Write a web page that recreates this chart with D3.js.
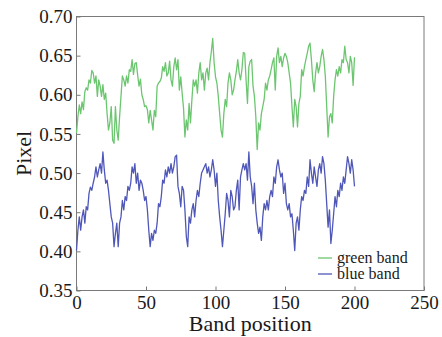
<!DOCTYPE html>
<html>
<head>
<meta charset="utf-8">
<script src="https://cdn.jsdelivr.net/npm/d3@7"></script>
<style>
  body { margin: 0; background: #fff; }
  svg { display: block; }
</style>
</head>
<body>
<svg id="chart" width="442" height="337"></svg>
<script>
const GREEN = '#6cc670';
const BLUE = '#4f57b8';
const AXIS = '#7a7a7a';
const FONT = '"Liberation Serif", "DejaVu Serif", serif';

// band positions 0..200
const positions = d3.range(0, 201);

const greenBand = [
  0.551, 0.572, 0.587, 0.576, 0.591, 0.581, 0.604, 0.609, 0.606, 0.619,
  0.615, 0.631, 0.628, 0.615, 0.624, 0.598, 0.619, 0.611, 0.598, 0.613,
  0.594, 0.602, 0.576, 0.555, 0.564, 0.585, 0.542, 0.538, 0.585, 0.555,
  0.542, 0.572, 0.598, 0.624, 0.619, 0.611, 0.624, 0.615, 0.632, 0.630,
  0.645, 0.626, 0.640, 0.641, 0.625, 0.611, 0.620, 0.600, 0.594, 0.585,
  0.586, 0.581, 0.564, 0.580, 0.568, 0.555, 0.580, 0.572, 0.611, 0.615,
  0.617, 0.621, 0.636, 0.630, 0.641, 0.624, 0.628, 0.643, 0.619, 0.611,
  0.636, 0.647, 0.632, 0.645, 0.606, 0.623, 0.602, 0.583, 0.546, 0.568,
  0.555, 0.589, 0.564, 0.593, 0.619, 0.611, 0.619, 0.602, 0.628, 0.641,
  0.619, 0.628, 0.606, 0.628, 0.634, 0.619, 0.641, 0.655, 0.672, 0.641,
  0.623, 0.615, 0.598, 0.576, 0.555, 0.546, 0.576, 0.594, 0.585, 0.615,
  0.628, 0.619, 0.600, 0.606, 0.619, 0.630, 0.645, 0.628, 0.619, 0.632,
  0.654, 0.653, 0.619, 0.589, 0.636, 0.643, 0.645, 0.611, 0.598, 0.572,
  0.530, 0.564, 0.555, 0.576, 0.585, 0.594, 0.615, 0.606, 0.619, 0.624,
  0.632, 0.641, 0.647, 0.606, 0.649, 0.660, 0.641, 0.649, 0.636, 0.647,
  0.653, 0.649, 0.641, 0.628, 0.615, 0.585, 0.559, 0.594, 0.585, 0.559,
  0.589, 0.598, 0.632, 0.624, 0.636, 0.645, 0.653, 0.662, 0.666, 0.645,
  0.619, 0.604, 0.628, 0.641, 0.628, 0.636, 0.649, 0.658, 0.645, 0.624,
  0.585, 0.546, 0.572, 0.576, 0.564, 0.598, 0.619, 0.632, 0.624, 0.636,
  0.628, 0.645, 0.641, 0.662, 0.645, 0.641, 0.628, 0.649, 0.641, 0.612,
  0.648,
];

const blueBand = [
  0.401, 0.427, 0.444, 0.427, 0.444, 0.453, 0.436, 0.457, 0.453, 0.474,
  0.482, 0.478, 0.487, 0.495, 0.508, 0.495, 0.504, 0.512, 0.500, 0.527,
  0.504, 0.487, 0.491, 0.478, 0.461, 0.444, 0.436, 0.406, 0.423, 0.436,
  0.406, 0.436, 0.444, 0.465, 0.453, 0.470, 0.465, 0.483, 0.478, 0.487,
  0.508, 0.500, 0.512, 0.487, 0.500, 0.478, 0.491, 0.487, 0.478, 0.465,
  0.470, 0.453, 0.427, 0.406, 0.423, 0.414, 0.427, 0.423, 0.436, 0.461,
  0.457, 0.470, 0.491, 0.487, 0.504, 0.495, 0.508, 0.500, 0.512, 0.500,
  0.508, 0.521, 0.523, 0.483, 0.474, 0.457, 0.483, 0.478, 0.453, 0.419,
  0.406, 0.444, 0.436, 0.453, 0.461, 0.444, 0.465, 0.478, 0.470, 0.487,
  0.500, 0.504, 0.508, 0.512, 0.500, 0.508, 0.495, 0.504, 0.517, 0.504,
  0.483, 0.500, 0.465, 0.444, 0.427, 0.406, 0.427, 0.448, 0.474, 0.465,
  0.444, 0.478, 0.470, 0.453, 0.457, 0.478, 0.491, 0.453, 0.495, 0.504,
  0.512, 0.504, 0.512, 0.491, 0.527, 0.495, 0.483, 0.461, 0.487, 0.453,
  0.436, 0.423, 0.431, 0.414, 0.444, 0.461, 0.453, 0.465, 0.453, 0.470,
  0.478, 0.470, 0.495, 0.487, 0.508, 0.517, 0.504, 0.495, 0.500, 0.474,
  0.487, 0.461, 0.453, 0.461, 0.444, 0.448, 0.427, 0.401, 0.436, 0.444,
  0.427, 0.453, 0.470, 0.465, 0.478, 0.474, 0.495, 0.483, 0.517, 0.500,
  0.487, 0.508, 0.495, 0.483, 0.504, 0.512, 0.500, 0.521, 0.512, 0.491,
  0.461, 0.431, 0.453, 0.410, 0.427, 0.448, 0.470, 0.457, 0.478, 0.470,
  0.487, 0.478, 0.495, 0.487, 0.504, 0.521, 0.512, 0.500, 0.517, 0.504,
  0.483,
];

const xTicks = [0, 50, 100, 150, 200, 250];
const yTicks = [0.35, 0.40, 0.45, 0.50, 0.55, 0.60, 0.65, 0.70];
const seriesNames = ['green band', 'blue band'];

const margin = { top: 16.5, right: 18, bottom: 46.5, left: 76.5 };
const width = 442 - margin.left - margin.right;
const height = 337 - margin.top - margin.bottom;

const svg = d3.select('#chart');
const g = svg.append('g')
  .attr('transform', `translate(${margin.left},${margin.top})`);

const x = d3.scaleLinear().domain([0, 250]).range([0, width]);
const y = d3.scaleLinear().domain([0.35, 0.70]).range([height, 0]);

// box
g.append('rect')
  .attr('width', width)
  .attr('height', height)
  .attr('fill', 'none')
  .attr('stroke', AXIS)
  .attr('stroke-width', 1);

// axes, ticks pointing inward
const xAxis = g.append('g')
  .attr('transform', `translate(0,${height})`)
  .call(d3.axisBottom(x).tickValues(xTicks).tickSize(-4).tickPadding(5)
    .tickFormat(d3.format('d')));
const yAxis = g.append('g')
  .call(d3.axisLeft(y).tickValues(yTicks).tickSize(-4).tickPadding(4)
    .tickFormat(d3.format('.2f')));

for (const ax of [xAxis, yAxis]) {
  ax.attr('font-family', null).attr('font-size', null);
  ax.select('.domain').remove();
  ax.selectAll('line').attr('stroke', AXIS);
  ax.selectAll('text')
    .attr('fill', '#1a1a1a')
    .style('font-family', FONT)
    .style('font-size', '19px');
}

// lines
const line = d3.line()
  .x((d, i) => x(positions[i]))
  .y(d => y(d));

const series = [
  { name: seriesNames[0], values: greenBand, color: GREEN },
  { name: seriesNames[1], values: blueBand, color: BLUE },
];

g.selectAll('.series')
  .data(series)
  .enter()
  .append('path')
  .attr('class', 'series')
  .attr('d', d => line(d.values))
  .attr('fill', 'none')
  .attr('stroke', d => d.color)
  .attr('stroke-width', 1.3)
  .attr('stroke-linejoin', 'round');

// axis titles
svg.append('text')
  .attr('x', margin.left + width / 2)
  .attr('y', 331)
  .attr('text-anchor', 'middle')
  .attr('fill', '#1a1a1a')
  .style('font-family', FONT)
  .style('font-size', '22px')
  .text('Band position');

svg.append('text')
  .attr('transform', `translate(31,${margin.top + height / 2}) rotate(-90)`)
  .attr('text-anchor', 'middle')
  .attr('fill', '#1a1a1a')
  .style('font-family', FONT)
  .style('font-size', '22px')
  .text('Pixel');

// legend
const legend = svg.append('g')
  .attr('transform', 'translate(318,258)');
const items = legend.selectAll('g')
  .data(series)
  .enter()
  .append('g')
  .attr('transform', (d, i) => `translate(0,${i * 16})`);
items.append('line')
  .attr('x1', 0)
  .attr('x2', 14)
  .attr('stroke', d => d.color)
  .attr('stroke-width', 1.3);
items.append('text')
  .attr('x', 19)
  .attr('dy', '0.32em')
  .attr('fill', '#1a1a1a')
  .style('font-family', FONT)
  .style('font-size', '16px')
  .text(d => d.name);
</script>
</body>
</html>
